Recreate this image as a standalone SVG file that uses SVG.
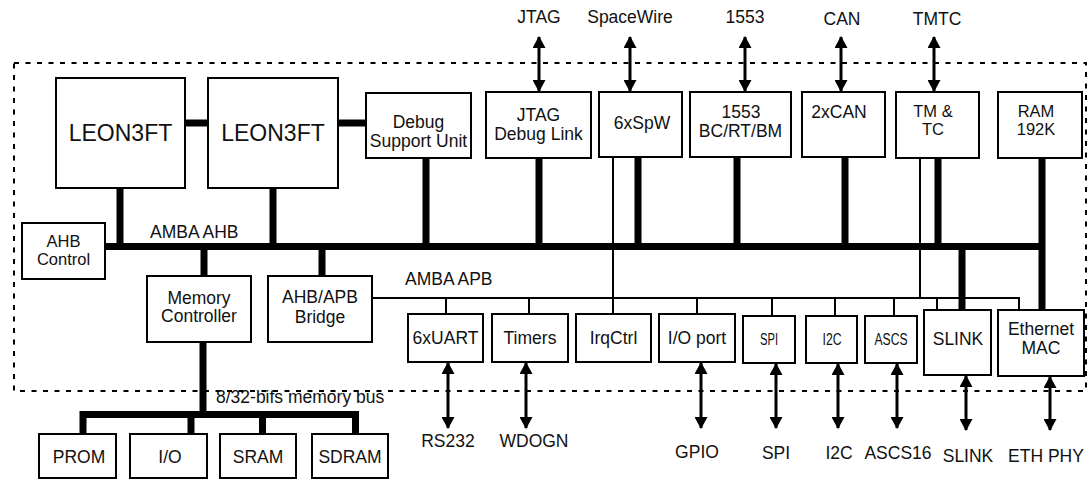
<svg xmlns="http://www.w3.org/2000/svg" width="1091" height="480" viewBox="0 0 1091 480">
<style>
.box{fill:#fff;stroke:#000;stroke-width:2}
.t{font-family:"Liberation Sans",Arial,sans-serif;font-size:17.5px;fill:#111;text-anchor:middle}
.s{text-anchor:start}
.big{font-size:23px}
.nar{font-size:16px}
.tight{font-size:16.5px}
.bus{stroke:#000;stroke-width:7;fill:none}
.thin{stroke:#000;stroke-width:2;fill:none}
.arr{stroke:#000;stroke-width:3;fill:none;marker-start:url(#ah);marker-end:url(#ah)}
.dash{fill:none;stroke:#000;stroke-width:2;stroke-dasharray:5 6.5}
</style>
<defs>
<marker id="ah" markerUnits="userSpaceOnUse" markerWidth="13" markerHeight="13" refX="11" refY="6.5" orient="auto-start-reverse">
<path d="M0,0 L12,6.5 L0,13 z" fill="#000"/>
</marker>
</defs>
<rect class="dash" x="14" y="63" width="1072" height="328"/>
<g id="connectors">
<line class="bus" x1="105" y1="246.5" x2="1045" y2="246.5"/>
<line class="bus" x1="185" y1="123" x2="208" y2="123"/>
<line class="bus" x1="338" y1="123" x2="366" y2="123"/>
<line class="bus" x1="120" y1="188" x2="120" y2="246"/>
<line class="bus" x1="273" y1="188" x2="273" y2="246"/>
<line class="bus" x1="426" y1="158" x2="426" y2="250"/>
<line class="bus" x1="539" y1="158" x2="539" y2="250"/>
<line class="bus" x1="638" y1="157" x2="638" y2="246"/>
<line class="bus" x1="737" y1="157" x2="737" y2="246"/>
<line class="bus" x1="845" y1="157" x2="845" y2="246"/>
<line class="bus" x1="938" y1="158" x2="938" y2="246"/>
<line class="bus" x1="1042" y1="158" x2="1042" y2="310"/>
<line class="bus" x1="962" y1="246" x2="962" y2="310"/>
<line class="bus" x1="204" y1="246" x2="204" y2="276"/>
<line class="bus" x1="322" y1="246" x2="322" y2="276"/>
<line class="bus" x1="203" y1="342" x2="203" y2="414"/>
<path class="bus" d="M83,434 V414.5 H355.5 V434"/>
<line class="bus" x1="191" y1="414" x2="191" y2="434"/>
<line class="bus" x1="262.5" y1="414" x2="262.5" y2="434"/>
<path class="thin" d="M372,298 H1019 V310"/>
<line class="thin" x1="613" y1="157" x2="613" y2="314"/>
<line class="thin" x1="920" y1="158" x2="920" y2="298"/>
<line class="thin" x1="446" y1="298" x2="446" y2="314"/>
<line class="thin" x1="529" y1="298" x2="529" y2="314"/>
<line class="thin" x1="697" y1="298" x2="697" y2="314"/>
<line class="thin" x1="772" y1="298" x2="772" y2="316"/>
<line class="thin" x1="835" y1="298" x2="835" y2="316"/>
<line class="thin" x1="894" y1="298" x2="894" y2="316"/>
<line class="thin" x1="937" y1="298" x2="937" y2="310"/>
<line class="arr" x1="539" y1="37" x2="539" y2="91"/>
<line class="arr" x1="630" y1="37" x2="630" y2="91"/>
<line class="arr" x1="745" y1="37" x2="745" y2="91"/>
<line class="arr" x1="841" y1="37" x2="841" y2="91"/>
<line class="arr" x1="934" y1="37" x2="934" y2="91"/>
<line class="arr" x1="448" y1="363" x2="448" y2="428"/>
<line class="arr" x1="526" y1="363" x2="526" y2="428"/>
<line class="arr" x1="701" y1="363" x2="701" y2="428"/>
<line class="arr" x1="776" y1="364" x2="776" y2="428"/>
<line class="arr" x1="838" y1="364" x2="838" y2="428"/>
<line class="arr" x1="897" y1="364" x2="897" y2="428"/>
<line class="arr" x1="966" y1="376" x2="966" y2="430"/>
<line class="arr" x1="1050" y1="377" x2="1050" y2="430"/>
</g>
<g id="labels">
<text class="t s" x="150" y="238">AMBA AHB</text>
<text class="t s" x="405" y="285">AMBA APB</text>
<text class="t s" x="216" y="403">8/32-bifs memory bus</text>
<text class="t" x="539" y="23">JTAG</text>
<text class="t" x="630" y="23">SpaceWire</text>
<text class="t" x="745" y="23">1553</text>
<text class="t" x="842" y="25">CAN</text>
<text class="t" x="937" y="25">TMTC</text>
<text class="t" x="448" y="447">RS232</text>
<text class="t" x="534" y="447">WDOGN</text>
<text class="t" x="697" y="458">GPIO</text>
<text class="t" x="776" y="459">SPI</text>
<text class="t" x="839" y="459">I2C</text>
<text class="t" x="898" y="459">ASCS16</text>
<text class="t" x="968" y="462">SLINK</text>
<text class="t" x="1046" y="462">ETH PHY</text>
</g>
<g id="leon1"><rect class="box" x="56" y="78" width="129" height="110"/><text class="t big" x="120.5" y="141">LEON3FT</text></g>
<g id="leon2"><rect class="box" x="208" y="78" width="130" height="110"/><text class="t big" x="273" y="141">LEON3FT</text></g>
<g id="dsu"><rect class="box" x="366" y="93" width="105" height="65"/><text class="t" x="418.5" y="128">Debug</text><text class="t" x="418.5" y="147">Support Unit</text></g>
<g id="ahbctrl"><rect class="box" x="22" y="223" width="83" height="56"/><text class="t tight" x="63.5" y="247">AHB</text><text class="t tight" x="63.5" y="265">Control</text></g>
<g id="memctrl"><rect class="box" x="147" y="276" width="104" height="66"/><text class="t" x="199" y="304">Memory</text><text class="t" x="199" y="322">Controller</text></g>
<g id="bridge"><rect class="box" x="268" y="276" width="104" height="66"/><text class="t" x="320" y="303">AHB/APB</text><text class="t" x="320" y="323">Bridge</text></g>
<g id="prom"><rect class="box" x="39" y="434" width="77" height="44"/><text class="t" x="79" y="463">PROM</text></g>
<g id="io"><rect class="box" x="130" y="434" width="77" height="44"/><text class="t" x="170" y="463">I/O</text></g>
<g id="sram"><rect class="box" x="220" y="434" width="76" height="44"/><text class="t" x="258" y="463">SRAM</text></g>
<g id="sdram"><rect class="box" x="312" y="434" width="76" height="44"/><text class="t" x="350" y="463">SDRAM</text></g>
<g id="jtag"><rect class="box" x="486" y="92" width="105" height="66"/><text class="t" x="538.5" y="121">JTAG</text><text class="t" x="538.5" y="140">Debug Link</text></g>
<g id="spw"><rect class="box" x="599" y="92" width="83" height="65"/><text class="t" x="642" y="129">6xSpW</text></g>
<g id="m1553"><rect class="box" x="690" y="92" width="101" height="65"/><text class="t" x="741" y="117.5">1553</text><text class="t" x="740.5" y="136.5">BC/RT/BM</text></g>
<g id="can"><rect class="box" x="802" y="92" width="83" height="65"/><text class="t" x="839" y="118">2xCAN</text></g>
<g id="tmtc"><rect class="box" x="896" y="92" width="83" height="66"/><text class="t tight" x="933" y="116.5">TM &amp;</text><text class="t tight" x="933" y="134.5">TC</text></g>
<g id="ram"><rect class="box" x="998" y="92" width="84" height="66"/><text class="t tight" x="1036" y="116.5">RAM</text><text class="t tight" x="1036" y="134.5">192K</text></g>
<g id="uart"><rect class="box" x="408" y="314" width="75" height="48"/><text class="t" x="445.5" y="344">6xUART</text></g>
<g id="timers"><rect class="box" x="492" y="314" width="76" height="48"/><text class="t" x="530" y="344">Timers</text></g>
<g id="irq"><rect class="box" x="576" y="314" width="75" height="48"/><text class="t" x="613.5" y="344">IrqCtrl</text></g>
<g id="ioport"><rect class="box" x="659" y="314" width="76" height="48"/><text class="t" x="697" y="344">I/O port</text></g>
<g id="spi"><rect class="box" x="743" y="316" width="52" height="47"/><text class="t nar" x="769" y="345" textLength="18" lengthAdjust="spacingAndGlyphs">SPI</text></g>
<g id="i2c"><rect class="box" x="806" y="316" width="51" height="47"/><text class="t nar" x="832" y="345" textLength="19" lengthAdjust="spacingAndGlyphs">I2C</text></g>
<g id="ascs"><rect class="box" x="865" y="316" width="52" height="47"/><text class="t nar" x="891" y="345" textLength="33" lengthAdjust="spacingAndGlyphs">ASCS</text></g>
<g id="slink"><rect class="box" x="924" y="310" width="67" height="65"/><text class="t" x="958" y="345">SLINK</text></g>
<g id="eth"><rect class="box" x="998" y="310" width="86" height="66"/><text class="t" x="1041" y="335">Ethernet</text><text class="t" x="1041" y="354">MAC</text></g>
</svg>
